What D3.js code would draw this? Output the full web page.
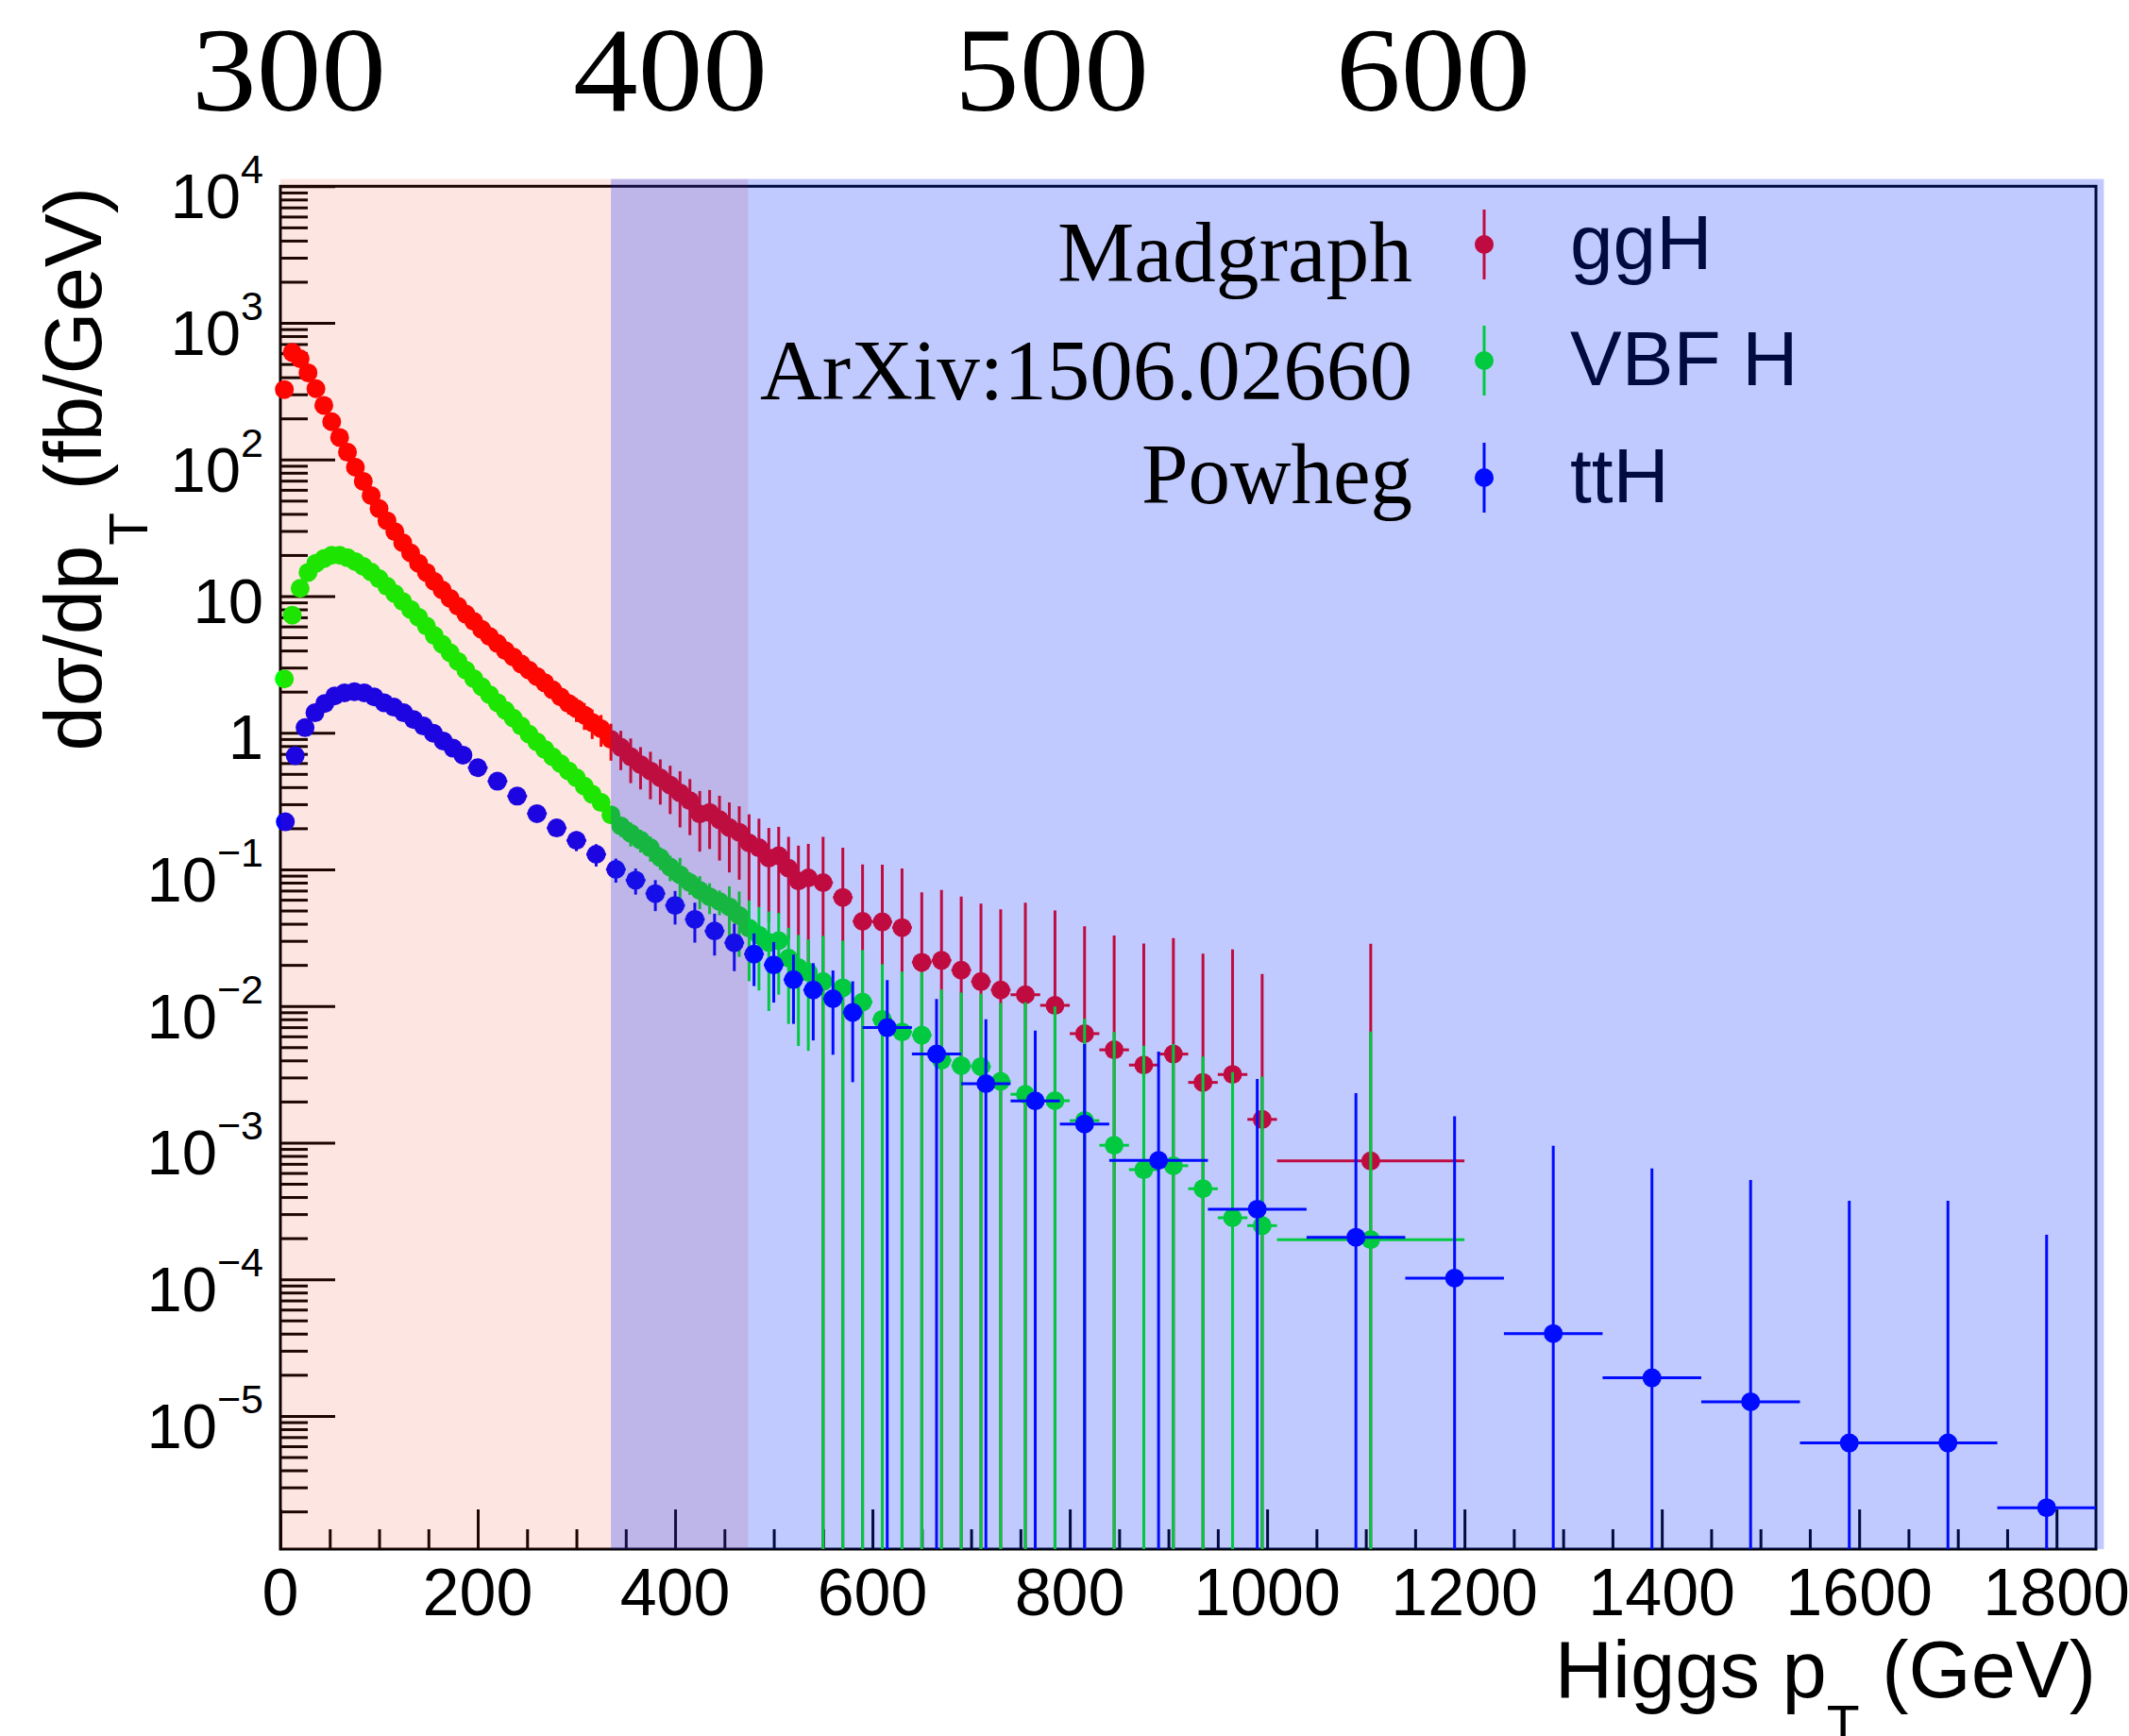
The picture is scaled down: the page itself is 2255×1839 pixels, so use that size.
<!DOCTYPE html>
<html>
<head>
<meta charset="utf-8">
<script src="https://cdn.jsdelivr.net/npm/d3@7/dist/d3.min.js"></script>
<style>
  html, body { margin: 0; padding: 0; background: #ffffff; }
  svg { display: block; }
  .sans { font-family: "Liberation Sans", Arial, Helvetica, sans-serif; }
  .serif { font-family: "Liberation Serif", "Times New Roman", serif; }
</style>
</head>
<body>
<svg id="chart" width="2255" height="1839"></svg>
<script>
// ---------------------------------------------------------------
// Higgs pT spectra (fb/GeV) for ggH, VBF H and ttH production
// ---------------------------------------------------------------

// Bin edges (GeV) shared by the ggH and VBF H histograms
const edgesGgHVbf = [
  0, 8, 16, 24, 32, 40, 48, 56, 64, 72, 80, 88, 96, 104, 112, 120, 128, 136, 144, 152,
  160, 168, 176, 184, 192, 200, 208, 216, 224, 232, 240, 248, 256, 264, 272, 280, 288, 296,
  304, 312, 320,
  330, 340, 350, 360, 370, 380, 390, 400, 410, 420, 430, 440, 450, 460, 470, 480, 490, 500,
  510, 520, 530, 540,
  560, 580, 600, 620, 640, 660, 680, 700, 720, 740,
  770, 800, 830, 860, 890, 920, 950, 980, 1010,
  1200
];

// Bin edges (GeV) of the ttH histogram
const edgesTtH = [
  0, 10, 20, 30, 40, 50, 60, 70, 80, 90, 100, 110, 120, 130, 140, 150, 160, 170, 180, 190,
  210, 230, 250, 270, 290, 310, 330, 350, 370, 390, 410, 430, 450, 470, 490, 510, 530, 550,
  570, 590,
  640, 690, 740, 790, 840,
  940, 1040, 1140, 1240, 1340, 1440, 1540, 1640, 1740, 1840
];

// ggH
const ggHValues = [
  325, 608, 547, 431, 330, 249, 189, 145, 113, 87.7, 69.2, 54.5, 43.7, 35.6, 29.6, 24.6,
  20.7, 17.4, 14.9, 12.8, 11.1, 9.62, 8.43, 7.38, 6.53, 5.71, 5.07, 4.51, 3.99, 3.59, 3.19,
  2.87, 2.58, 2.32, 2.06, 1.83, 1.64, 1.50, 1.35, 1.19, 1.07,
  0.895, 0.783, 0.668, 0.585, 0.526, 0.468, 0.414, 0.363, 0.318, 0.255, 0.261, 0.231, 0.202,
  0.187, 0.156, 0.144, 0.121, 0.126, 0.102, 0.0822, 0.0867,
  0.0800, 0.0624, 0.0417, 0.0413, 0.0375, 0.0209, 0.0216, 0.0183, 0.0151, 0.0131,
  0.0121, 0.0101, 0.00628, 0.00478, 0.00370, 0.00445, 0.00276, 0.00316, 0.00148,
  0.000735
];
const ggHErrors = [
  3, 5, 5, 4, 3, 2.5, 2, 1.6, 1.3, 1.1, 0.9, 0.8, 0.7, 0.6, 0.55, 0.5, 0.45, 0.42, 0.38,
  0.35, 0.33, 0.31, 0.29, 0.27, 0.26, 0.25, 0.24, 0.23, 0.22, 0.22, 0.21, 0.21, 0.2, 0.2,
  0.22, 0.26, 0.28, 0.3, 0.3, 0.29, 0.28,
  0.27, 0.25, 0.24, 0.20, 0.20, 0.17, 0.16, 0.16, 0.14, 0.12, 0.12, 0.115, 0.107, 0.103,
  0.097, 0.091, 0.080, 0.079, 0.071, 0.067, 0.067,
  0.093, 0.082, 0.067, 0.067, 0.064, 0.047, 0.049, 0.045, 0.041, 0.038,
  0.045, 0.040, 0.032, 0.028, 0.025, 0.027, 0.0214, 0.0228, 0.0157,
  0.0278
];

// VBF H
const vbfValues = [
  2.48, 7.26, 11.4, 14.9, 17.4, 18.8, 19.9, 19.9, 19.1, 17.9, 16.5, 15.0, 13.4, 11.8, 10.4,
  9.12, 7.98, 7.0, 6.04, 5.15, 4.44, 3.85, 3.33, 2.87, 2.49, 2.17, 1.90, 1.66, 1.46, 1.28,
  1.12, 0.977, 0.857, 0.755, 0.667, 0.594, 0.526, 0.468, 0.407, 0.355, 0.309,
  0.251, 0.208, 0.184, 0.164, 0.144, 0.122, 0.104, 0.0914, 0.080, 0.0702, 0.0631, 0.0582,
  0.0532, 0.0459, 0.0372, 0.0330, 0.0292, 0.0301, 0.0224, 0.0191, 0.0177,
  0.0151, 0.0136, 0.0107, 0.00798, 0.00646, 0.00612, 0.00401, 0.00366, 0.00360, 0.00281,
  0.00226, 0.00203, 0.00145, 0.000957, 0.000634, 0.000678, 0.000460, 0.000282, 0.000247,
  0.000195
];
const vbfErrors = [
  0.05, 0.1, 0.12, 0.13, 0.14, 0.14, 0.14, 0.14, 0.13, 0.12, 0.11, 0.10, 0.09, 0.085, 0.08,
  0.07, 0.065, 0.06, 0.055, 0.05, 0.046, 0.042, 0.038, 0.035, 0.032, 0.03, 0.028, 0.026,
  0.024, 0.022, 0.02, 0.019, 0.018, 0.017, 0.016, 0.016, 0.015, 0.015, 0.015, 0.015, 0.016,
  0.035, 0.035, 0.037, 0.031, 0.030, 0.023, 0.022, 0.030, 0.015, 0.019, 0.016, 0.012, 0.022,
  0.023, 0.022, 0.020, 0.020, 0.018, 0.015, 0.014, 0.013,
  0.0175, 0.0165, 0.0150, 0.0122, 0.0114, 0.0116, 0.0092, 0.0089, 0.0087, 0.0077,
  0.0084, 0.0079, 0.0066, 0.0055, 0.0045, 0.0046, 0.0038, 0.0030, 0.0028,
  0.0063
];

// ttH
const ttHValues = [
  0.223, 0.679, 1.09, 1.40, 1.64, 1.86, 1.96, 2.00, 1.96, 1.83, 1.66, 1.54, 1.40, 1.25, 1.12,
  0.993, 0.871, 0.771, 0.686,
  0.555, 0.442, 0.344, 0.256, 0.201, 0.163, 0.129, 0.100, 0.0834, 0.0665, 0.0545, 0.0431,
  0.0354, 0.0290, 0.0240, 0.0200, 0.0156, 0.0131, 0.0113, 0.00897,
  0.00695, 0.00445, 0.00270, 0.00202, 0.00137,
  0.000741, 0.000326, 0.000203, 0.000102, 0.0000401, 0.0000190, 0.0000127, 0.00000634,
  0.00000634, 0.00000213
];
const ttHErrors = [
  0.005, 0.01, 0.015, 0.017, 0.02, 0.022, 0.023, 0.024, 0.024, 0.023, 0.022, 0.021, 0.02,
  0.019, 0.018, 0.017, 0.016, 0.015, 0.015,
  0.02, 0.02, 0.02, 0.02, 0.02, 0.027, 0.024, 0.020, 0.018, 0.017, 0.015, 0.014, 0.012,
  0.011, 0.010, 0.0094, 0.0082, 0.0075, 0.0069, 0.0062,
  0.0085, 0.0068, 0.0053, 0.0046, 0.0039,
  0.0039, 0.0026, 0.0021, 0.00146, 0.00091, 0.00063, 0.00052, 0.00037, 0.00037, 0.00021
];

// Axis ticks and labels
const xMajorTicks = [0, 200, 400, 600, 800, 1000, 1200, 1400, 1600, 1800];
const xTickLabels = ["0", "200", "400", "600", "800", "1000", "1200", "1400", "1600", "1800"];
const yMajorTicks = [1e4, 1e3, 1e2, 10, 1, 0.1, 0.01, 1e-3, 1e-4, 1e-5];
const yTickLabels = [
  ["10", "4"], ["10", "3"], ["10", "2"], ["10", ""], ["1", ""],
  ["10", "\u22121"], ["10", "\u22122"], ["10", "\u22123"], ["10", "\u22124"], ["10", "\u22125"]
];
const topTickValues = [300, 400, 500, 600];

// Legend and annotation text
const seriesNames = ["ggH", "VBF H", "ttH"];
const seriesColors = ["#ff0000", "#00ff00", "#0000ff"];
const generatorNotes = ["Madgraph", "ArXiv:1506.02660", "Powheg"];

// Shaded pT windows (GeV)
const pinkBand = [0, 474];
const blueBand = [335, 1848];

// ---------------------------------------------------------------
const svg = d3.select("#chart");
const x = d3.scaleLinear().domain([0, 1840]).range([297, 2220]);
const y = d3.scaleLog().domain([1.06e-6, 1e4]).range([1641, 197.3]);
const xTop = d3.scaleLinear().domain([300, 600]).range([306, 1518]);
const [X0, X1] = x.range();
const [YB, YT] = y.range();

svg.append("defs").append("clipPath").attr("id", "plotClip")
  .append("rect")
  .attr("x", X0).attr("y", YT)
  .attr("width", X1 - X0).attr("height", YB - YT);

// ---- inward ticks ----
const xMinorTicks = d3.range(0, 1841, 50).filter(v => v % 200 !== 0);
const yMinorTicks = [];
for (let n = -6; n <= 3; n++) {
  for (let k = 2; k <= 9; k++) {
    const v = k * Math.pow(10, n);
    if (v > y.domain()[0] && v < y.domain()[1]) yMinorTicks.push(v);
  }
}

function styleTicks(g) {
  g.select(".domain").remove();
  g.selectAll(".tick text").remove();
  g.selectAll(".tick line").attr("stroke", "#000").attr("stroke-width", 3);
}

svg.append("g").attr("transform", `translate(0,${YB})`)
  .call(d3.axisBottom(x).tickValues(xMajorTicks).tickSize(-42)).call(styleTicks);
svg.append("g").attr("transform", `translate(0,${YB})`)
  .call(d3.axisBottom(x).tickValues(xMinorTicks).tickSize(-21)).call(styleTicks);
svg.append("g").attr("transform", `translate(${X0},0)`)
  .call(d3.axisLeft(y).tickValues(yMajorTicks).tickSize(-58)).call(styleTicks);
svg.append("g").attr("transform", `translate(${X0},0)`)
  .call(d3.axisLeft(y).tickValues(yMinorTicks).tickSize(-29)).call(styleTicks);

// frame
svg.append("rect")
  .attr("x", X0).attr("y", YT)
  .attr("width", X1 - X0).attr("height", YB - YT)
  .attr("fill", "none").attr("stroke", "#000").attr("stroke-width", 3);

// ---- data ----
function drawSeries(edges, values, errors, color) {
  const bins = values.map((v, i) => ({ lo: edges[i], hi: edges[i + 1], v, e: errors[i] }));
  const g = svg.append("g");
  const bars = g.append("g").attr("clip-path", "url(#plotClip)")
    .attr("stroke", color).attr("stroke-width", 3);
  bars.selectAll("line.ey").data(bins).join("line").attr("class", "ey")
    .attr("x1", d => x((d.lo + d.hi) / 2)).attr("x2", d => x((d.lo + d.hi) / 2))
    .attr("y1", d => y(d.v + d.e))
    .attr("y2", d => (d.v - d.e > 0 ? y(d.v - d.e) : YB + 20));
  bars.selectAll("line.ex").data(bins).join("line").attr("class", "ex")
    .attr("x1", d => x(d.lo)).attr("x2", d => x(d.hi))
    .attr("y1", d => y(d.v)).attr("y2", d => y(d.v));
  g.selectAll("circle").data(bins).join("circle")
    .attr("cx", d => x((d.lo + d.hi) / 2)).attr("cy", d => y(d.v))
    .attr("r", 10).attr("fill", color);
}
drawSeries(edgesGgHVbf, ggHValues, ggHErrors, seriesColors[0]);
drawSeries(edgesGgHVbf, vbfValues, vbfErrors, seriesColors[1]);
drawSeries(edgesTtH, ttHValues, ttHErrors, seriesColors[2]);

// ---- legend ----
const legendRowsY = [259, 382, 506];
const legend = svg.append("g");
seriesNames.forEach((name, i) => {
  const ry = legendRowsY[i];
  legend.append("line").attr("x1", 1572).attr("x2", 1572)
    .attr("y1", ry - 37).attr("y2", ry + 37)
    .attr("stroke", seriesColors[i]).attr("stroke-width", 3);
  legend.append("circle").attr("cx", 1572).attr("cy", ry).attr("r", 10)
    .attr("fill", seriesColors[i]);
  legend.append("text").attr("class", "sans")
    .attr("x", 1663).attr("y", ry + 26)
    .attr("font-size", 82).attr("fill", "#000").text(name);
});

// ---- translucent pT windows over the plot ----
const bandTop = y(1.13e4);
svg.append("rect")
  .attr("x", x(pinkBand[0])).attr("y", bandTop)
  .attr("width", x(pinkBand[1]) - x(pinkBand[0])).attr("height", YB - bandTop)
  .attr("fill", "rgb(240,40,10)").attr("fill-opacity", 0.12);
svg.append("rect")
  .attr("x", x(blueBand[0])).attr("y", bandTop)
  .attr("width", x(blueBand[1]) - x(blueBand[0])).attr("height", YB - bandTop)
  .attr("fill", "rgb(4,43,255)").attr("fill-opacity", 0.25);

// ---- generator notes ----
const noteBaselines = [298, 423, 533];
const noteWidths = [376, 691, 287];
generatorNotes.forEach((t, i) => {
  svg.append("text").attr("class", "serif")
    .attr("x", 1496).attr("y", noteBaselines[i])
    .attr("text-anchor", "end").attr("font-size", 90)
    .attr("textLength", noteWidths[i]).attr("lengthAdjust", "spacingAndGlyphs")
    .attr("fill", "#000").text(t);
});

// ---- tick labels ----
const xLab = svg.append("g").attr("class", "sans").attr("font-size", 70)
  .attr("text-anchor", "middle").attr("fill", "#000");
xMajorTicks.forEach((v, i) => {
  xLab.append("text").attr("x", x(v)).attr("y", 1711).text(xTickLabels[i]);
});

const yLab = svg.append("g").attr("class", "sans").attr("fill", "#000");
yMajorTicks.forEach((v, i) => {
  const [base, exp] = yTickLabels[i];
  const t = yLab.append("text").attr("text-anchor", "end")
    .attr("x", 279).attr("y", y(v) + (exp ? 34 : 28)).attr("font-size", 67);
  t.append("tspan").text(base);
  if (exp) t.append("tspan").attr("font-size", 43).attr("dy", -37).text(exp);
});

const topLab = svg.append("g").attr("class", "serif").attr("font-size", 128)
  .attr("text-anchor", "middle").attr("fill", "#000");
topTickValues.forEach(v => {
  topLab.append("text").attr("x", xTop(v)).attr("y", 117)
    .attr("textLength", 206).attr("lengthAdjust", "spacingAndGlyphs")
    .text(String(v));
});

// ---- axis titles ----
const xt = svg.append("text").attr("class", "sans")
  .attr("x", X1).attr("y", 1798).attr("text-anchor", "end")
  .attr("font-size", 85).attr("fill", "#000");
xt.append("tspan").text("Higgs p");
xt.append("tspan").attr("font-size", 57).attr("dy", 49).text("T");
xt.append("tspan").attr("dy", -49).text(" (GeV)");

const yt = svg.append("text").attr("class", "sans")
  .attr("transform", "translate(107,198) rotate(-90)")
  .attr("text-anchor", "end").attr("font-size", 85).attr("fill", "#000");
yt.append("tspan").text("d\u03c3/dp");
yt.append("tspan").attr("font-size", 57).attr("dy", 49).text("T");
yt.append("tspan").attr("dy", -49).text(" (fb/GeV)");
</script>
</body>
</html>
